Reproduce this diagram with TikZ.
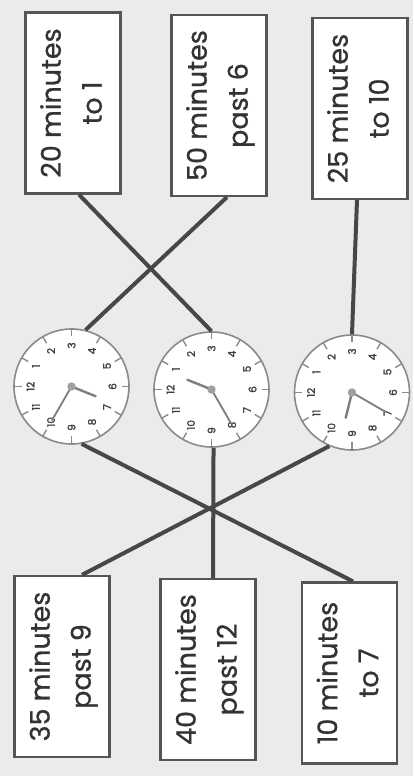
\documentclass[tikz,border=0pt]{standalone}
\usepackage{fontspec}
\usepackage{graphicx}
\setmainfont{Poppins}[FakeBold=0.8]
\newfontfamily\dialfont{Poppins}[FakeBold=1.6]
\usetikzlibrary{calc}
\definecolor{bgc}{HTML}{EBEBEB}
\definecolor{boxc}{HTML}{555555}
\definecolor{txtc}{HTML}{333333}
\definecolor{linkc}{HTML}{474747}
\definecolor{clockc}{HTML}{8A8A8A}
\definecolor{handc}{HTML}{7E7E7E}
\definecolor{dotc}{HTML}{A0A0A0}
\definecolor{numc}{HTML}{404040}
\newcommand\boxtext[2]{\rotatebox{90}{\begin{tabular}{@{}c@{}}#1\\#2\end{tabular}}}
\newcommand\dialface[3]{%
  \begin{scope}[shift={(#1.center)}]
    \foreach \h in {1,...,12}{
      \draw[dialtick] (180-30*\h:57.5) -- (180-30*\h:50);
      \node[dialnum] at (180-30*\h:41) {\h};
    }
    \draw[hourhand] (0,0) -- (#2:26);
    \draw[minhand] (0,0) -- (#3:39);
    \fill[dotc] (0,0) circle (4.2);
  \end{scope}}
\begin{document}
\begin{tikzpicture}[x=1pt,y=1pt,
  timebox/.style={draw=boxc, line width=2.2pt, fill=white, minimum width=95pt,
    minimum height=181pt, inner sep=0pt, text=txtc,
    font=\fontsize{27}{41}\selectfont},
  clockbox/.style={circle, draw=clockc, line width=1.6pt, fill=white,
    minimum size=115pt, inner sep=0pt},
  link/.style={draw=linkc, line width=4pt},
  dialtick/.style={draw=clockc, line width=1.4pt},
  dialnum/.style={rotate=90, text=numc, inner sep=0pt,
    font=\fontsize{10.5}{11}\selectfont\dialfont},
  hourhand/.style={draw=handc, line width=2.4pt, line cap=round},
  minhand/.style={draw=handc, line width=1.8pt, line cap=round}]
\fill[bgc] (0,0) rectangle (413,776);
\useasboundingbox (0,0) rectangle (413,776);

% top boxes
\node[timebox] (t1) at (73,673) {\boxtext{20 minutes}{to 1}};
\node[timebox] (t2) at (219,670.5) {\boxtext{50 minutes}{past 6}};
\node[timebox] (t3) at (360,667.5) {\boxtext{25 minutes}{to 10}};
% bottom boxes
\node[timebox] (b1) at (62,109.5) {\boxtext{35 minutes}{past 9}};
\node[timebox] (b2) at (208,106.5) {\boxtext{40 minutes}{past 12}};
\node[timebox] (b3) at (349.5,103) {\boxtext{10 minutes}{to 7}};
% clocks
\node[clockbox] (c1) at (71.5,389.5) {};
\node[clockbox] (c2) at (211.5,386.5) {};
\node[clockbox] (c3) at (352,383.5) {};
\dialface{c1}{338}{240}
\dialface{c2}{158}{300}
\dialface{c3}{256}{330}

% connectors
\draw[link] ([xshift=6pt]t1.south) -- (c2.90);
\draw[link] ([xshift=8pt]t2.south) -- (c1.76);
\draw[link] ([xshift=-3pt]t3.south) -- (c3.90);
\draw[link] (c1.-80) -- ([xshift=3.5pt]b3.north);
\draw[link] (c2.-88) -- ([xshift=5pt]b2.north);
\draw[link] (c3.-113) -- ([xshift=20pt]b1.north);
\end{tikzpicture}
\end{document}
